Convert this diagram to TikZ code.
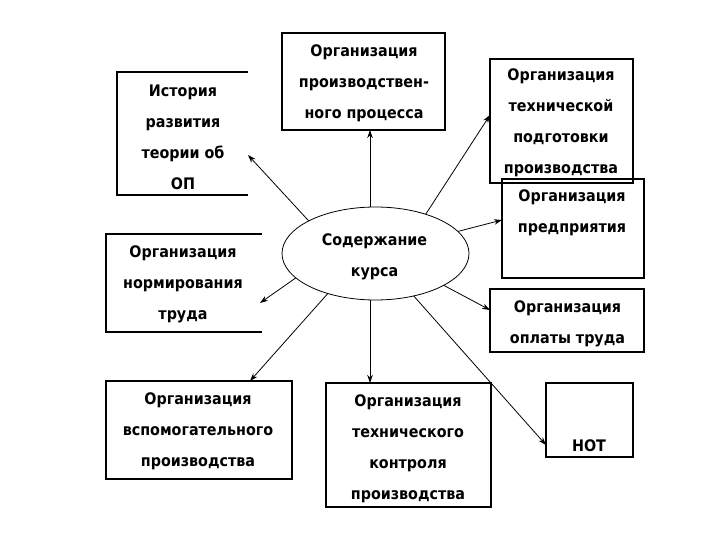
\documentclass[tikz,border=0pt]{standalone}
\usepackage{fontspec}
\setmainfont{DejaVu Sans Condensed}
\usetikzlibrary{arrows.meta,shapes.geometric}
\begin{document}
\begin{tikzpicture}[x=1pt,y=-1pt,
  box/.style={draw,line width=1.1pt,inner sep=0pt,outer sep=0pt},
  obox/.style={draw=none,inner sep=0pt,outer sep=0pt},
  txt/.style={align=center,inner sep=0pt,font=\fontsize{15.9}{31}\selectfont\bfseries},
  arr/.style={line width=0.8pt,-{Stealth[length=8pt,width=5.5pt]}}]
\useasboundingbox[fill=white] (0,0) rectangle (720,540);
% boxes
\node[obox,minimum width=131pt,minimum height=123pt] (ist) at (182.5,133.5) {};
\node[box,minimum width=163pt,minimum height=97pt] (prod) at (363.5,81.5) {};
\node[box,minimum width=143pt,minimum height=124pt] (tech) at (561.5,121) {};
\node[box,minimum width=142pt,minimum height=99pt] (pred) at (573,228.5) {};
\node[box,minimum width=154pt,minimum height=63pt] (opl) at (567,320.5) {};
\node[obox,minimum width=156pt,minimum height=98pt] (norm) at (184,283) {};
\node[box,minimum width=186pt,minimum height=98pt] (vsp) at (199,430) {};
\node[box,minimum width=165pt,minimum height=124pt] (kon) at (408.5,445) {};
\node[box,minimum width=87pt,minimum height=74pt] (nt) at (589.5,420) {};
\draw[line width=1.1pt] (ist.north east) -- (ist.north west) -- (ist.south west) -- (ist.south east);
\draw[line width=1.1pt] (norm.north east) -- (norm.north west) -- (norm.south west) -- (norm.south east);
\node[draw,ellipse,line width=0.8pt,minimum width=187pt,minimum height=93pt,inner sep=0pt,outer sep=0pt] (ell) at (375.5,253.5) {};
% texts
\node[txt] (tist) at (183,137.5) {История\\развития\\теории об\\ОП};
\node[txt] (tprod) at (364,83) {Организация\\производствен-\\ного процесса};
\node[txt] (ttech) at (561,123) {Организация\\технической\\подготовки\\производства};
\node[txt] (tpred) at (572,213) {Организация\\предприятия};
\node[txt] (topl) at (567.5,323.5) {Организация\\оплаты труда};
\node[txt] (tnorm) at (183,284.5) {Организация\\нормирования\\труда};
\node[txt] (tvsp) at (198,431) {Организация\\вспомогательного\\производства};
\node[txt] (tkon) at (408,449) {Организация\\технического\\контроля\\производства};
\node[txt] (tnt) at (589,446) {НОТ};
\node[txt] (tell) at (374.5,257) {Содержание\\курса};
% arrows
\draw[arr] (ell.154) -- ([yshift=-21.5pt]ist.east);
\draw[arr] ([xshift=6.5pt]prod.south |- ell.north) -- ([xshift=6.5pt]prod.south);
\draw[arr] (ell.38) -- ([yshift=6pt]tech.west);
\draw[arr] (ell.15) -- ([yshift=8.5pt]pred.west);
\draw[arr] (ell.-25) -- ([yshift=10.5pt]opl.west);
\draw[arr] (ell.-48) -- ([yshift=-25pt]nt.west);
\draw[arr] ([xshift=-38.5pt]kon.north |- ell.south) -- ([xshift=-38.5pt]kon.north);
\draw[arr] (ell.220) -- ([xshift=51pt]vsp.north);
\draw[arr] (ell.197) -- ([xshift=-2pt,yshift=-20pt]norm.east);
\end{tikzpicture}
\end{document}
